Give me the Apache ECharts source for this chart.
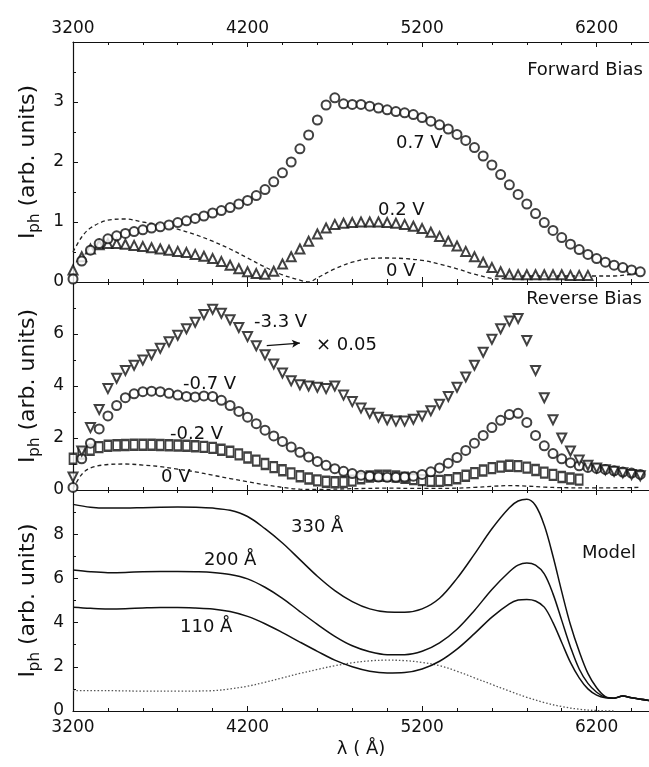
<!DOCTYPE html>
<html>
<head>
<meta charset="utf-8">
<script src="https://cdn.jsdelivr.net/npm/echarts@6/dist/echarts.min.js"></script>
<style>
html,body{margin:0;padding:0;background:#fff;}
#chart{width:649px;height:767px;}
</style>
</head>
<body>
<div id="chart"></div>
<script>
// ---------- data ----------
// wavelength grid (Å) for the measured (marker) curves
const wl50 = [3200,3250,3300,3350,3400,3450,3500,3550,3600,3650,3700,3750,3800,3850,3900,3950,4000,4050,4100,4150,4200,4250,4300,4350,4400,4450,4500,4550,4600,4650,4700,4750,4800,4850,4900,4950,5000,5050,5100,5150,5200,5250,5300,5350,5400,5450,5500,5550,5600,5650,5700,5750,5800,5850,5900,5950,6000,6050,6100,6150,6200,6250,6300,6350,6400,6450];

// Forward bias
const fwd07 = [0.05,0.35,0.53,0.64,0.72,0.77,0.81,0.84,0.87,0.9,0.92,0.95,0.99,1.02,1.06,1.1,1.15,1.19,1.24,1.3,1.36,1.44,1.54,1.67,1.82,2.0,2.22,2.45,2.7,2.95,3.07,2.97,2.96,2.96,2.93,2.9,2.87,2.84,2.82,2.79,2.74,2.68,2.62,2.55,2.46,2.36,2.24,2.1,1.95,1.79,1.62,1.46,1.3,1.14,0.99,0.86,0.74,0.63,0.54,0.46,0.39,0.33,0.28,0.24,0.2,0.17];
const fwd02 = [0.2,0.42,0.55,0.62,0.64,0.64,0.63,0.61,0.59,0.57,0.55,0.53,0.51,0.49,0.46,0.43,0.39,0.34,0.28,0.22,0.17,0.14,0.13,0.18,0.3,0.42,0.55,0.68,0.8,0.9,0.96,0.98,0.99,1.0,1.0,1.0,0.99,0.98,0.96,0.93,0.89,0.83,0.76,0.68,0.6,0.51,0.42,0.33,0.24,0.17,0.13,0.12,0.12,0.12,0.12,0.12,0.12,0.11,0.11,0.11];
const fwd0X = [3200,3250,3300,3400,3500,3600,3700,3800,3900,4000,4100,4200,4300,4400,4500,4550,4600,4700,4800,4900,5000,5100,5200,5300,5400,5500,5600,5650,5700,5800,6000,6200,6300,6400,6450];
const fwd0Y = [0.5,0.75,0.9,1.03,1.05,1.0,0.95,0.88,0.79,0.68,0.55,0.4,0.25,0.12,0.03,0.0,0.07,0.22,0.33,0.39,0.4,0.39,0.36,0.3,0.22,0.13,0.06,0.05,0.1,0.1,0.1,0.1,0.1,0.13,0.15];

// Reverse bias
const rev33 = [0.5,1.5,2.4,3.1,3.9,4.3,4.6,4.8,5.0,5.2,5.45,5.7,5.95,6.2,6.45,6.75,6.95,6.8,6.55,6.25,5.9,5.55,5.2,4.85,4.5,4.2,4.05,4.0,3.95,3.9,4.0,3.65,3.4,3.15,2.95,2.8,2.7,2.65,2.65,2.72,2.85,3.05,3.3,3.6,3.95,4.35,4.8,5.3,5.8,6.2,6.5,6.6,5.75,4.6,3.55,2.7,2.0,1.5,1.15,0.95,0.85,0.78,0.72,0.66,0.6,0.55];
const rev07 = [0.1,1.2,1.8,2.35,2.85,3.25,3.55,3.7,3.78,3.8,3.78,3.72,3.65,3.6,3.58,3.62,3.6,3.45,3.25,3.02,2.8,2.55,2.3,2.08,1.87,1.65,1.45,1.27,1.1,0.95,0.82,0.72,0.63,0.57,0.53,0.5,0.49,0.49,0.5,0.53,0.6,0.7,0.85,1.03,1.25,1.52,1.8,2.1,2.4,2.68,2.9,2.95,2.6,2.1,1.7,1.4,1.2,1.05,0.93,0.87,0.83,0.79,0.74,0.69,0.65,0.6];
const rev02 = [1.2,1.4,1.55,1.65,1.7,1.72,1.73,1.74,1.74,1.74,1.73,1.72,1.71,1.7,1.68,1.66,1.62,1.55,1.47,1.37,1.25,1.13,1.0,0.88,0.76,0.64,0.53,0.44,0.37,0.32,0.3,0.31,0.36,0.45,0.52,0.55,0.55,0.52,0.47,0.42,0.38,0.35,0.35,0.38,0.45,0.55,0.65,0.75,0.84,0.9,0.93,0.92,0.86,0.77,0.67,0.58,0.5,0.44,0.4];
const rev0X = [3200,3250,3300,3400,3500,3600,3700,3800,3900,4000,4100,4200,4300,4400,4500,4600,4800,5000,5200,5400,5500,5600,5700,5800,5900,6000,6200,6450];
const rev0Y = [0.05,0.6,0.85,0.98,1.0,0.96,0.9,0.8,0.7,0.57,0.44,0.32,0.2,0.1,0.03,0.02,0.05,0.07,0.06,0.07,0.1,0.14,0.17,0.15,0.11,0.09,0.08,0.1];

// Model
const modelX = [3200,3300,3400,3500,3600,3700,3800,3900,4000,4100,4200,4300,4400,4500,4600,4700,4800,4900,5000,5100,5200,5300,5400,5500,5600,5700,5750,5800,5850,5900,5950,6000,6050,6100,6150,6200,6250,6300,6350,6400,6500];
const m330 = [9.35,9.22,9.18,9.18,9.2,9.22,9.23,9.22,9.18,9.08,8.8,8.25,7.6,6.85,6.1,5.45,4.95,4.62,4.48,4.47,4.62,5.1,6.0,7.1,8.25,9.2,9.5,9.58,9.3,8.4,7.0,5.4,3.9,2.7,1.7,1.05,0.65,0.58,0.68,0.6,0.48];
const m200 = [6.38,6.3,6.26,6.27,6.3,6.31,6.31,6.3,6.27,6.18,5.98,5.6,5.1,4.5,3.92,3.38,2.95,2.68,2.55,2.55,2.7,3.08,3.7,4.55,5.5,6.3,6.6,6.7,6.6,6.2,5.3,4.1,2.9,1.9,1.25,0.85,0.62,0.58,0.68,0.6,0.48];
const m110 = [4.7,4.65,4.62,4.63,4.66,4.68,4.68,4.66,4.62,4.5,4.28,3.95,3.55,3.12,2.7,2.3,2.0,1.8,1.72,1.74,1.9,2.25,2.8,3.5,4.25,4.85,5.02,5.05,4.98,4.7,4.0,3.1,2.2,1.5,1.0,0.72,0.6,0.58,0.68,0.6,0.48];
const dotX = [3200,3400,3600,3800,4000,4100,4200,4300,4400,4500,4600,4700,4800,4900,5000,5100,5200,5300,5400,5500,5600,5700,5800,5900,6000,6100,6200,6300];
const dotY = [0.92,0.92,0.9,0.9,0.92,1.0,1.12,1.3,1.5,1.7,1.88,2.05,2.18,2.27,2.3,2.28,2.2,2.05,1.8,1.5,1.2,0.9,0.62,0.38,0.2,0.08,0.02,0.0];

const xTicks = [3200, 4200, 5200, 6200];

// ---------- helpers ----------
const zip = (xs, ys) => ys.map((y, i) => [xs[i], y]);
const FONT = 'DejaVu Sans';
const INK = '#111111';

const chart = echarts.init(document.getElementById('chart'), null, {renderer: 'canvas'});

const grids = [
  {left: 73, top: 42, width: 581, height: 240},
  {left: 73, top: 282, width: 581, height: 208},
  {left: 73, top: 490, width: 581, height: 221}
];

const plain = v => String(v);

function xAx(gi, pos, showLabel, extra) {
  return Object.assign({
    type: 'value', gridIndex: gi, position: pos,
    min: xTicks[0], max: 6500, interval: xTicks[1] - xTicks[0],
    axisLine: {show: true, onZero: false, lineStyle: {color: INK, width: 1.2}},
    axisTick: {show: true, inside: true, length: 5, lineStyle: {color: INK}},
    minorTick: {show: true, splitNumber: 5, length: 3, lineStyle: {color: INK}},
    splitLine: {show: false},
    axisLabel: {show: showLabel, color: INK, fontFamily: FONT, fontSize: 17, margin: pos === 'top' ? 5 : 8,
      showMaxLabel: false, formatter: plain}
  }, extra || {});
}
const yName = '{i|I}{s|ph}{t| (arb. units)}';
function yAx(gi, max, interval) {
  return {
    type: 'value', gridIndex: gi, position: 'left', min: 0, max: max, interval: interval,
    name: yName, nameLocation: 'middle', nameGap: 30, nameRotate: 90,
    nameTextStyle: {
      color: INK,
      rich: {
        i: {fontFamily: FONT, fontSize: 22, lineHeight: 28, color: INK},
        s: {fontFamily: FONT, fontSize: 15, lineHeight: 13, verticalAlign: 'bottom', color: INK},
        t: {fontFamily: FONT, fontSize: 22, lineHeight: 28, color: INK}
      }
    },
    axisLine: {show: true, onZero: false, lineStyle: {color: INK, width: 1.2}},
    axisTick: {show: true, inside: true, length: 5, lineStyle: {color: INK}},
    minorTick: {show: true, splitNumber: 2, length: 3, lineStyle: {color: INK}},
    splitLine: {show: false},
    axisLabel: {color: INK, fontFamily: FONT, fontSize: 17, margin: 9, showMaxLabel: false, formatter: plain}
  };
}

const xAxes = [
  xAx(0, 'bottom', false), xAx(0, 'top', true),
  xAx(1, 'bottom', false), xAx(1, 'top', false),
  xAx(2, 'bottom', true, {name: 'λ ( Å)', nameLocation: 'middle', nameGap: 29,
      nameTextStyle: {fontFamily: FONT, fontSize: 18, color: INK}}),
  xAx(2, 'top', false)
];
const yAxes = [yAx(0, 4, 1), yAx(1, 8, 2), yAx(2, 10, 2)];

function markers(name, xi, yi, xs, ys, symbol, size, rotate, bw) {
  return {
    name: name, type: 'scatter', xAxisIndex: xi, yAxisIndex: yi,
    data: zip(xs, ys), symbol: symbol, symbolSize: size, symbolRotate: rotate || 0,
    itemStyle: {color: INK, borderColor: INK, borderWidth: bw || 1.6},
    silent: true, z: 3
  };
}
function curve(name, xi, yi, xs, ys, type, width, color) {
  return {
    name: name, type: 'line', xAxisIndex: xi, yAxisIndex: yi,
    data: zip(xs, ys), showSymbol: false, smooth: 0.35,
    lineStyle: {color: color || INK, width: width, type: type},
    silent: true, z: 2
  };
}

const series = [
  // Forward bias
  curve('0 V (fwd)', 0, 0, fwd0X, fwd0Y, [4, 3], 1.3, '#222'),
  markers('0.2 V', 0, 0, wl50, fwd02, 'emptyTriangle', 9, 0, 1.4),
  markers('0.7 V', 0, 0, wl50, fwd07, 'emptyCircle', 9, 0, 1.9),
  // Reverse bias
  curve('0 V (rev)', 2, 1, rev0X, rev0Y, [4, 3], 1.3, '#222'),
  markers('-0.2 V', 2, 1, wl50, rev02, 'emptyRect', [7, 10], 0, 1.6),
  markers('-0.7 V', 2, 1, wl50, rev07, 'emptyCircle', 9, 0, 1.9),
  Object.assign(markers('-3.3 V', 2, 1, wl50, rev33, 'emptyTriangle', 9, 180, 1.4), {
    markLine: {
      silent: true, symbol: ['none', 'arrow'], symbolSize: [6, 8],
      label: {show: false},
      lineStyle: {color: INK, width: 1.2, type: 'solid'},
      data: [[{coord: [4310, 5.55]}, {coord: [4500, 5.65]}]]
    }
  }),
  // Model
  curve('dotted', 4, 2, dotX, dotY, [1.5, 2], 1.3, '#555'),
  curve('110 Å', 4, 2, modelX, m110, 'solid', 1.5),
  curve('200 Å', 4, 2, modelX, m200, 'solid', 1.5),
  curve('330 Å', 4, 2, modelX, m330, 'solid', 1.5)
];

function txt(text, x, y, align) {
  return {type: 'text', x: x, y: y, silent: true, z: 100,
    style: {text: text, fill: INK, font: '18px "DejaVu Sans"', align: align || 'left', verticalAlign: 'middle'}};
}

chart.setOption({
  backgroundColor: '#ffffff',
  animation: false,
  grid: grids,
  xAxis: xAxes,
  yAxis: yAxes,
  series: series,
  graphic: [
    txt('Forward Bias', 643, 70, 'right'),
    txt('0.7 V', 396, 143),
    txt('0.2 V', 378, 210),
    txt('0 V', 386, 271),
    txt('Reverse Bias', 642, 299, 'right'),
    txt('-3.3 V', 254, 322),
    txt('× 0.05', 316, 345),
    txt('-0.7 V', 183, 384),
    txt('-0.2 V', 170, 434),
    txt('0 V', 161, 477),
    txt('330 Å', 291, 527),
    txt('200 Å', 204, 560),
    txt('110 Å', 180, 627),
    txt('Model', 582, 553)
  ]
});
</script>
</body>
</html>
